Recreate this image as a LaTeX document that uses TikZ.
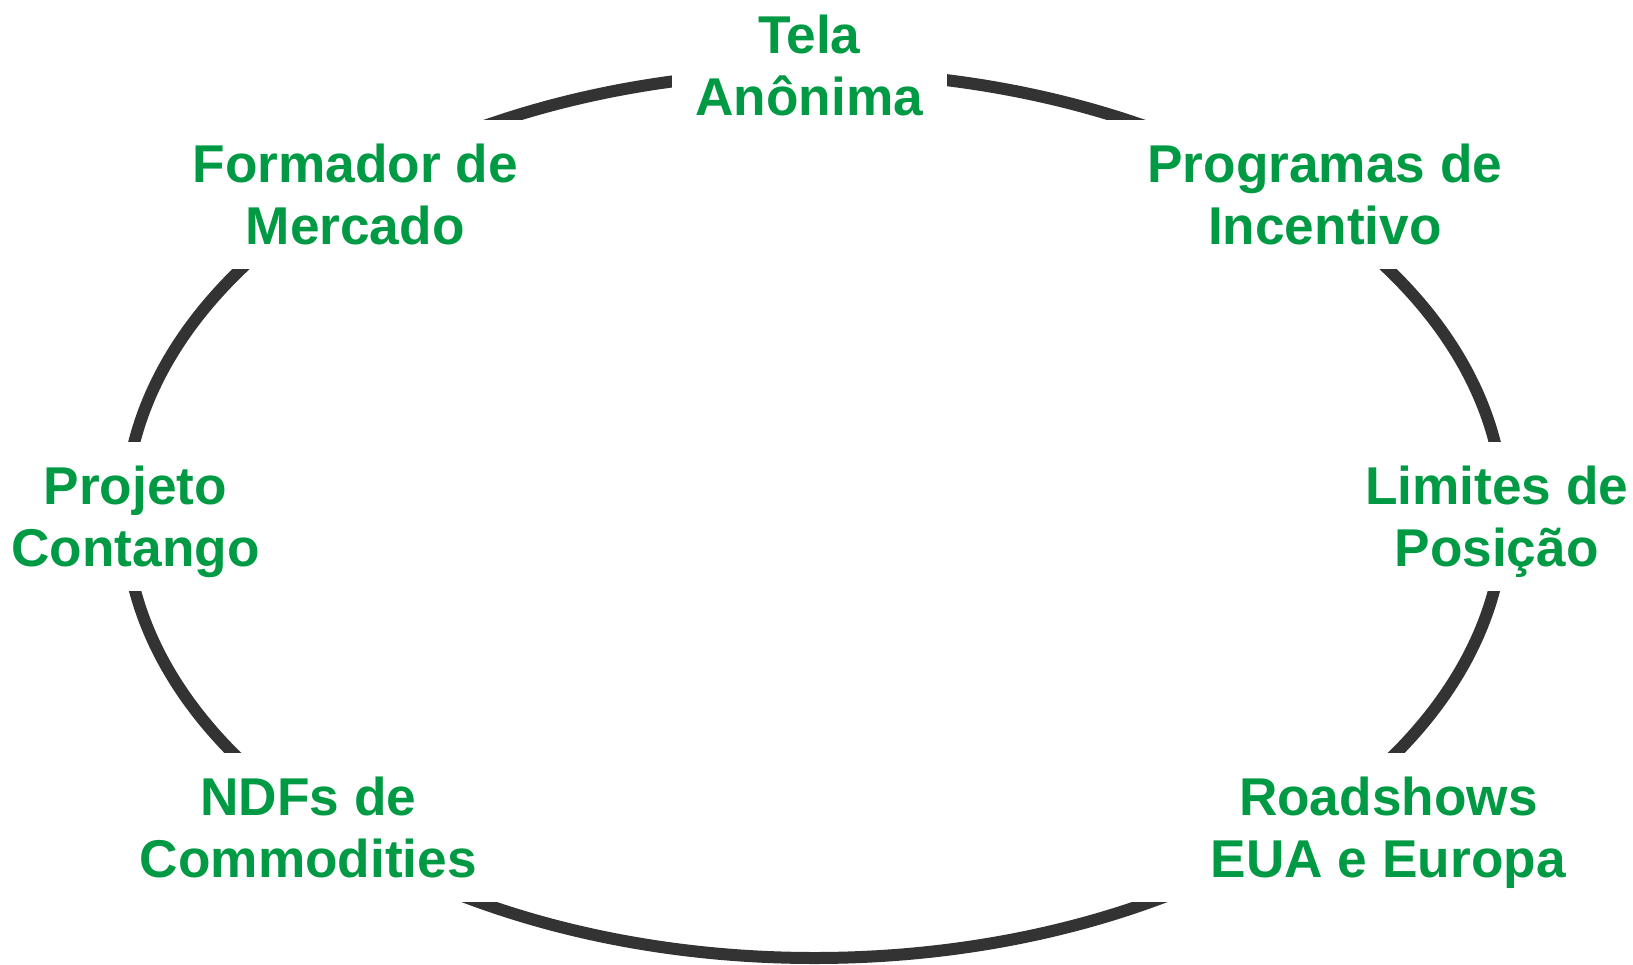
\documentclass[tikz,border=0pt]{standalone}
\usepackage{fontspec}
\setmainfont{Liberation Sans}
\definecolor{lblgreen}{RGB}{0,153,68}
\definecolor{ringgray}{RGB}{51,51,51}
\newcommand\lbltop{\rule{0pt}{0.926em}}
\newcommand\lblbot{\rule[-0.21em]{0pt}{0pt}}
\begin{document}
\begin{tikzpicture}[x=1pt,y=-1pt,
  lbl/.style={fill=white, text=lblgreen, font=\fontsize{53.2}{62}\selectfont\bfseries,
    align=center, inner xsep=24pt, inner ysep=0pt, minimum height=149pt}]
\useasboundingbox (0,0) rectangle (1633,964);
\draw[ringgray, line width=12pt] (814.5,515) ellipse [x radius=689.5pt, y radius=443pt];
\node[lbl] (tela) at (809.3,65.6) {\lbltop Tela\\Anônima\lblbot};
\node[lbl] (formador) at (355.2,194.8) {\lbltop Formador de\\Mercado\lblbot};
\node[lbl, inner xsep=55pt] (programas) at (1324.8,194.8) {\lbltop Programas de\\Incentivo\lblbot};
\node[lbl] (projeto) at (135.4,516.6) {\lbltop Projeto\\Contango\lblbot};
\node[lbl] (limites) at (1496.6,516.6) {\lbltop Limites de\\Posição\lblbot};
\node[lbl] (ndfs) at (308.3,827) {\lbltop NDFs de\\Commodities\lblbot};
\node[lbl, inner xsep=80pt] (roadshows) at (1388.3,827) {\lbltop Roadshows\\EUA e Europa\lblbot};
\end{tikzpicture}
\end{document}
